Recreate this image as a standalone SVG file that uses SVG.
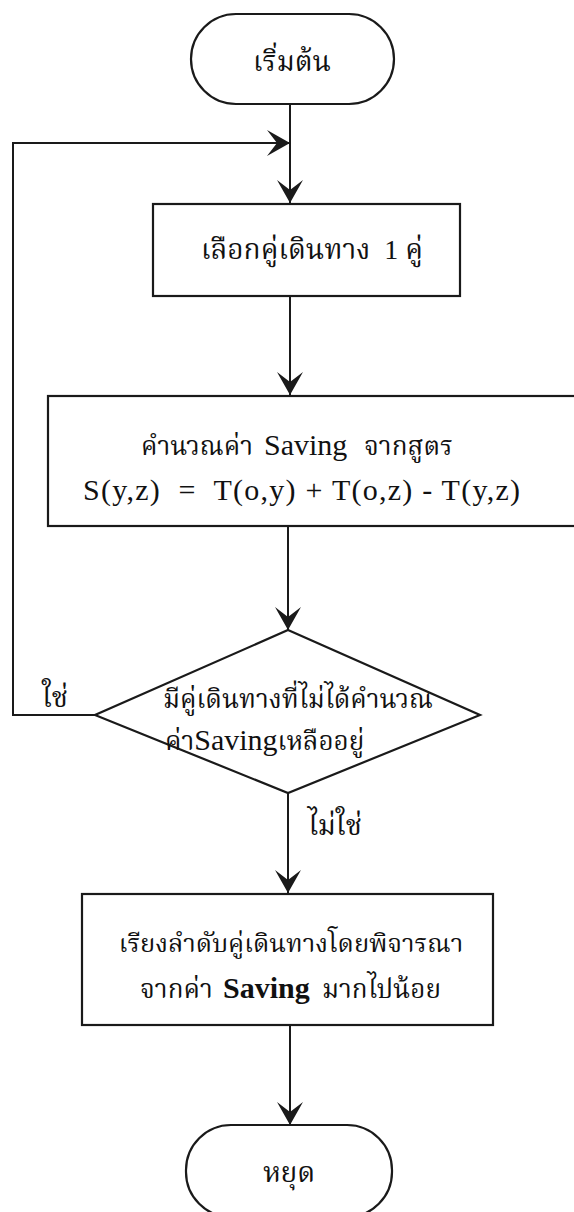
<svg xmlns="http://www.w3.org/2000/svg" width="574" height="1212" viewBox="0 0 574 1212">
<style>
.shape{fill:#fff;stroke:#1a1a1a;stroke-width:2.2}
.line{fill:none;stroke:#1a1a1a;stroke-width:2}
.th{font-family:"Liberation Serif","Noto Serif Thai","Noto Sans Thai",serif;font-size:28px;fill:#111;text-anchor:middle}
.st{text-anchor:start}
.sm{font-size:26px}
.lat{font-family:"Liberation Serif",serif;font-size:30px;fill:#111;text-anchor:start;white-space:pre}
</style>
<defs>
<marker id="arr" viewBox="-24 -14 26 28" refX="0" refY="0" markerWidth="26" markerHeight="28" markerUnits="userSpaceOnUse" orient="auto">
<path d="M0,0 L-23,-13 L-13,0 L-23,13 Z" fill="#1a1a1a"/>
</marker>
</defs>
<rect width="574" height="1212" fill="#fff"/>
<g id="connectors">
<line class="line" x1="290" y1="104" x2="290" y2="203" marker-end="url(#arr)"/>
<polyline class="line" points="95,715 13,715 13,143 290,143" marker-end="url(#arr)"/>
<line class="line" x1="290" y1="296" x2="290" y2="395" marker-end="url(#arr)"/>
<line class="line" x1="288" y1="526" x2="288" y2="630" marker-end="url(#arr)"/>
<line class="line" x1="288" y1="793" x2="288" y2="893" marker-end="url(#arr)"/>
<line class="line" x1="290" y1="1025" x2="290" y2="1125" marker-end="url(#arr)"/>
<text class="th" x="55" y="707">ใช่</text>
<text class="th" x="335" y="835">ไม่ใช่</text>
</g>
<g id="start">
<rect class="shape" x="191" y="14" width="203" height="90" rx="45" ry="45"/>
<text class="th" x="292" y="71">เริ่มต้น</text>
</g>
<g id="select">
<rect class="shape" x="153" y="204" width="307" height="92"/>
<text class="th" x="312" y="259" style="white-space:pre">เลือกคู่เดินทาง  1 คู่</text>
</g>
<g id="compute">
<rect class="shape" x="48" y="396" width="540" height="130"/>
<text class="th st sm" x="141" y="455">คำนวณค่า</text>
<text class="lat" x="264" y="455">Saving</text>
<text class="th st sm" x="364" y="455">จากสูตร</text>
<text class="lat" x="83" y="500" textLength="437" lengthAdjust="spacing">S(y,z)  =  T(o,y) + T(o,z) - T(y,z)</text>
</g>
<g id="decision">
<polygon class="shape" points="288,630 480,715 288,793 95,715"/>
<text class="th st sm" x="163" y="708">มีคู่เดินทางที่ไม่ได้คำนวณ</text>
<text class="th st sm" x="165" y="750">ค่า<tspan style="font-family:'Liberation Serif',serif;font-size:30px">Saving</tspan>เหลืออยู่</text>
</g>
<g id="sort">
<rect class="shape" x="82" y="894" width="411" height="131"/>
<text class="th" x="291" y="952" style="font-size:25.5px">เรียงลำดับคู่เดินทางโดยพิจารณา</text>
<text class="th st sm" x="140" y="998">จากค่า</text>
<text class="lat" x="223" y="998" style="font-weight:bold">Saving</text>
<text class="th st sm" x="322" y="998">มากไปน้อย</text>
</g>
<g id="stop">
<rect class="shape" x="186" y="1125" width="206" height="92" rx="45" ry="45"/>
<text class="th" x="289" y="1182">หยุด</text>
</g>
</svg>
